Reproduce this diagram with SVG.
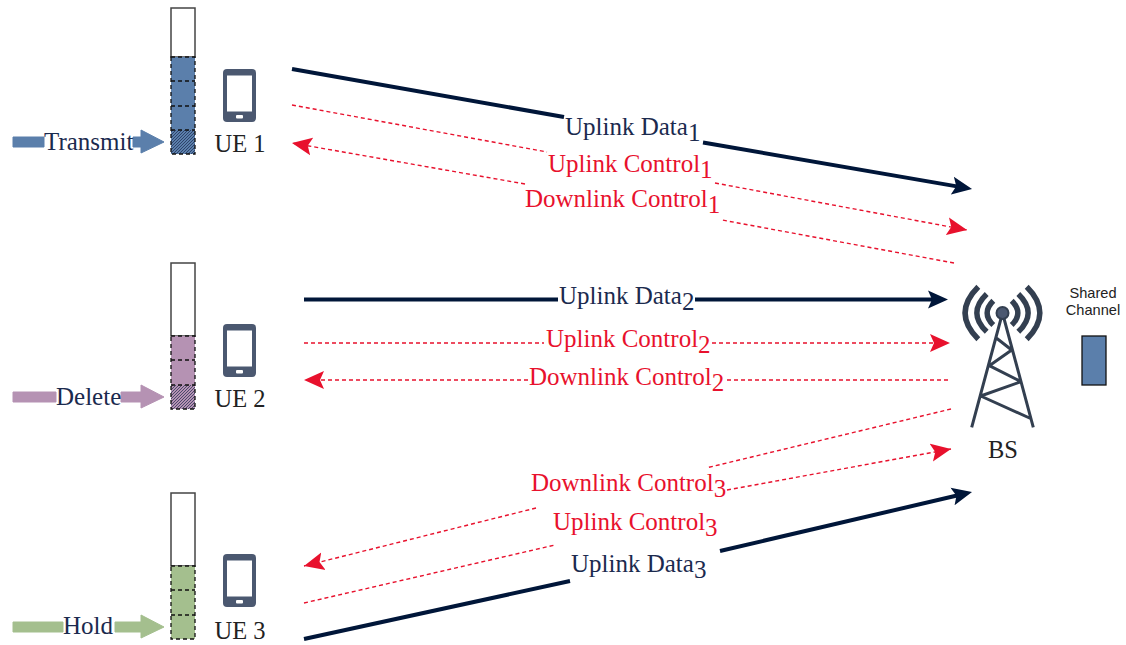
<svg xmlns="http://www.w3.org/2000/svg" width="1126" height="645" viewBox="0 0 1126 645">
<style>
text{font-family:"Liberation Serif","Times New Roman",serif;font-size:25px}
.n{fill:#1b2a4e}.r{fill:#e8112d}
.ue{fill:#222;text-anchor:middle;font-size:24.500px}
.d{stroke:#001639;stroke-width:4;fill:none}
.c{stroke:#e8112d;stroke-width:1.4;stroke-dasharray:4 3;fill:none}
.q{fill:#fff;stroke:#444;stroke-width:1.5}
.s{stroke:#111;stroke-width:1.3;stroke-dasharray:4 3;fill:none}
.ph{fill:#4b5870}
.t{stroke:#333f50;fill:none;stroke-width:3}
.a{stroke:#333f50;fill:none;stroke-width:5.500}
.cap{font-family:"Liberation Sans",Arial,sans-serif;font-size:14.600px;fill:#222;text-anchor:middle}
</style>
<defs>
<marker id="an" markerUnits="userSpaceOnUse" markerWidth="24" markerHeight="20" refX="9" refY="9" orient="auto" viewBox="0 0 24 18"><path d="M0 0L20 9L0 18L4 9Z" fill="#001639"/></marker>
<marker id="ar" markerUnits="userSpaceOnUse" markerWidth="24" markerHeight="20" refX="20" refY="9" orient="auto" viewBox="0 0 24 18"><path d="M0 0L20 9L0 18L4 9Z" fill="#e8112d"/></marker>
<pattern id="hb" width="3" height="3" patternUnits="userSpaceOnUse"><rect width="3" height="3" fill="#5b7fab"/><path d="M0 3L3 0" stroke="#1b2a4e" stroke-width=".7"/></pattern>
<pattern id="hp" width="3" height="3" patternUnits="userSpaceOnUse"><rect width="3" height="3" fill="#b592b3"/><path d="M0 3L3 0" stroke="#1b2a4e" stroke-width=".7"/></pattern>
<g id="phone"><rect x="223" y="69" width="33" height="53" rx="4" class="ph"/><rect x="227" y="75.500" width="25" height="36" fill="#fff"/><rect x="236" y="115" width="7" height="3.500" rx="1" fill="#fff"/></g>
<g id="tower">
<path class="t" d="M1002.500 313L971.700 427.300M1002.500 313L1033.300 427.300M980.700 396L1031.700 419M980.700 396L1021 381.700M1021 381.700L989.300 365.700M989.300 365.700L1011.700 350M1011.700 350L996 337.700"/>
<circle cx="1002.500" cy="313" r="6" fill="#4b5870" stroke="#333f50" stroke-width="2"/>
<path class="a" d="M978.300 286.700Q952 313 978.300 339.300M986.700 294Q967 313 986.700 331.700M993.300 300.700Q981 313 993.300 325M1026.700 286.700Q1053 313 1026.700 339.300M1018.300 294Q1038 313 1018.300 331.700M1011.700 300.700Q1024 313 1011.700 325"/>
</g>
</defs>

<g id="connectors">
<path class="d" d="M292 69L564 117"/><path class="d" d="M703 142.500L961.200 187.100" marker-end="url(#an)"/>
<path class="c" d="M292 105L547 152"/><path class="c" d="M715 183L967 230" marker-end="url(#ar)"/>
<path class="c" d="M954 263L722 220"/><path class="c" d="M525 184L292 143" marker-end="url(#ar)"/>
<path class="d" d="M304 299.500L558 299.500"/><path class="d" d="M695 299.500L937 299.500" marker-end="url(#an)"/>
<path class="c" d="M304 343L544 343"/><path class="c" d="M712 343L950 343" marker-end="url(#ar)"/>
<path class="c" d="M948 380L724 380"/><path class="c" d="M528 380L304 380" marker-end="url(#ar)"/>
<path class="c" d="M951 409L706 468"/><path class="c" d="M536 508L304 566" marker-end="url(#ar)"/>
<path class="c" d="M304 603L555 545"/><path class="c" d="M727 490L951 449" marker-end="url(#ar)"/>
<path class="d" d="M304 639L570 581"/><path class="d" d="M720 551L961.300 494.500" marker-end="url(#an)"/>
</g>

<g id="labels">
<text x="565" y="135" class="n">Uplink Data<tspan dy="6">1</tspan></text>
<text x="548" y="172" class="r">Uplink Control<tspan dy="6">1</tspan></text>
<text x="525" y="207" class="r">Downlink Control<tspan dy="6">1</tspan></text>
<text x="559" y="304" class="n">Uplink Data<tspan dy="6">2</tspan></text>
<text x="546" y="347" class="r">Uplink Control<tspan dy="6">2</tspan></text>
<text x="529" y="385" class="r">Downlink Control<tspan dy="6">2</tspan></text>
<text x="531" y="491" class="r">Downlink Control<tspan dy="6">3</tspan></text>
<text x="553" y="530" class="r">Uplink Control<tspan dy="6">3</tspan></text>
<text x="571" y="572" class="n">Uplink Data<tspan dy="6">3</tspan></text>
</g>

<g id="ue1">
<path d="M13 137H44V147H13Z M133 137H141V130L164 142L141 153V147H133Z" fill="#5b7fab" stroke="#5b7fab" stroke-linejoin="round"/>
<text x="44" y="150" class="n">Transmit</text>
<rect x="171" y="8" width="24" height="49" class="q"/>
<rect x="171" y="57" width="24" height="73" fill="#5b7fab"/><rect x="171" y="130" width="24" height="24" fill="url(#hb)"/>
<path class="s" d="M171 57H195V154H171ZM171 81H195M171 106H195M171 130H195"/>
<use href="#phone"/>
<text x="240" y="152" class="ue">UE 1</text>
</g>
<g id="ue2">
<path d="M13 392H56V402H13Z M121 392H141V385L164 397L141 408V402H121Z" fill="#b592b3" stroke="#b592b3" stroke-linejoin="round"/>
<text x="56" y="405" class="n">Delete</text>
<rect x="171" y="263" width="24" height="73" class="q"/>
<rect x="171" y="336" width="24" height="49" fill="#b592b3"/><rect x="171" y="385" width="24" height="24" fill="url(#hp)"/>
<path class="s" d="M171 336H195V409H171ZM171 360H195M171 385H195"/>
<use href="#phone" y="255"/>
<text x="240" y="407" class="ue">UE 2</text>
</g>
<g id="ue3">
<path d="M13 622H63V632H13Z M115 622H141V615L164 627L141 638V632H115Z" fill="#a4bf8e" stroke="#a4bf8e" stroke-linejoin="round"/>
<text x="63" y="634" class="n">Hold</text>
<rect x="171" y="493" width="24" height="73" class="q"/>
<rect x="171" y="566" width="24" height="73" fill="#a4bf8e"/>
<path class="s" d="M171 566H195V639H171ZM171 590H195M171 615H195"/>
<use href="#phone" y="485"/>
<text x="240" y="639" class="ue">UE 3</text>
</g>
<g id="bs">
<use href="#tower"/>
<text x="1003" y="458" class="ue">BS</text>
</g>
<g id="shared-channel">
<text x="1093" y="298" class="cap">Shared</text>
<text x="1093" y="315" class="cap">Channel</text>
<rect x="1082" y="336" width="24" height="49" fill="#5b7fab" stroke="#111" stroke-width="1.300"/>
</g>
</svg>
